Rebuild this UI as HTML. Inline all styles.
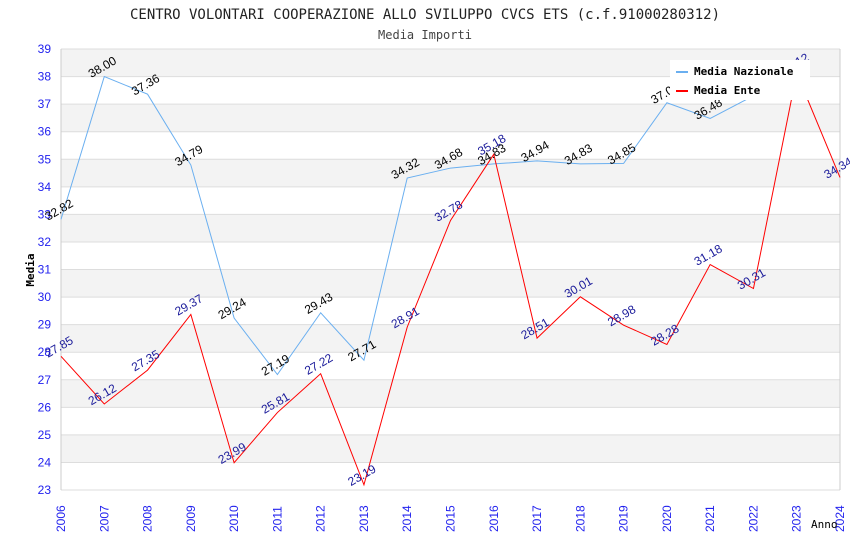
<!DOCTYPE html>
<html><head><meta charset="utf-8"><style>
body{margin:0;background:#fff}
svg{display:block;font-family:"Liberation Sans",sans-serif}
.mono{font-family:"DejaVu Sans Mono","Liberation Mono",monospace}
</style></head><body>
<svg id="chart" width="850" height="550">
<text class="mono" x="425" y="19" text-anchor="middle" font-size="14" fill="#222">CENTRO VOLONTARI COOPERAZIONE ALLO SVILUPPO CVCS ETS (c.f.91000280312)</text>
<text class="mono" x="425" y="39" text-anchor="middle" font-size="12" fill="#444">Media Importi</text>
<g id="bands"></g><g id="grid"></g><g id="axes"></g><g id="lines"></g><g id="labels"></g>
<text class="mono" x="34" y="270" transform="rotate(-90 34 270)" text-anchor="middle" font-size="11" font-weight="bold" fill="#000">Media</text>
<text class="mono" x="811" y="528" font-size="11" fill="#000">Anno</text>
<g>
<rect x="670" y="60" width="140" height="40" fill="#fff"/>
<rect x="676" y="71" width="12" height="2" fill="#6aaff0"/>
<text class="mono" x="694" y="75" font-size="11" font-weight="bold" fill="#000">Media Nazionale</text>
<rect x="676" y="90" width="12" height="2" fill="#ff0000"/>
<text class="mono" x="694" y="94" font-size="11" font-weight="bold" fill="#000">Media Ente</text>
</g>
</svg>
<script>
const years=[2006,2007,2008,2009,2010,2011,2012,2013,2014,2015,2016,2017,2018,2019,2020,2021,2022,2023,2024];
const nazionale=[32.82,38.00,37.36,34.79,29.24,27.19,29.43,27.71,34.32,34.68,34.83,34.94,34.83,34.85,37.05,36.48,37.30];
const ente=[27.85,26.12,27.35,29.37,23.99,25.81,27.22,23.19,28.91,32.78,35.18,28.51,30.01,28.98,28.28,31.18,30.31,38.12,34.34];
const yTicks=[23,24,25,26,27,28,29,30,31,32,33,34,35,36,37,38,39];
const NS='http://www.w3.org/2000/svg';
const L=61,R=840,T=49,B=490,yMin=23,yMax=39;
const x=i=>L+(R-L)*i/(years.length-1);
const y=v=>B-(B-T)*(v-yMin)/(yMax-yMin);
function mk(tag,attrs,parent){const e=document.createElementNS(NS,tag);for(const k in attrs)e.setAttribute(k,attrs[k]);document.getElementById(parent).appendChild(e);return e;}
for(let v=yMin;v<yMax;v++){
  const r=mk('rect',{x:L,y:y(v+1),width:R-L,height:y(v)-y(v+1),fill:(v%2===0)?'#f3f3f3':'#fff'},'bands');
  
  
}
yTicks.forEach(v=>{
  const g=mk('line',{x1:L,x2:R,y1:y(v),y2:y(v),stroke:'#ddd','stroke-width':1},'grid');
  
  
  const t=mk('text',{x:L-10,y:y(v)+4,'text-anchor':'end','font-size':12,fill:'#22e'},'axes');
  t.textContent=v;
  
  
});
mk('line',{x1:L,x2:L,y1:T,y2:B,stroke:'#ccc'},'axes');
mk('line',{x1:R,x2:R,y1:T,y2:B,stroke:'#ccc'},'axes');
years.forEach((yr,i)=>{
  const t=mk('text',{x:x(i)+4,y:532,transform:`rotate(-90 ${x(i)+4} 532)`,'font-size':12,fill:'#22e'},'axes');
  t.textContent=yr;
  
  
});
function series(vals,color,lc,name){
  const p=mk('polyline',{points:vals.map((v,i)=>x(i)+','+y(v)).join(' '),fill:'none',stroke:color,'stroke-width':1},'lines');
  
  
  vals.forEach((v,i)=>{
    const px=x(i),py=y(v)-6;
    const t=mk('text',{x:px,y:py,'text-anchor':'middle','font-size':12,fill:lc,transform:`rotate(-30 ${px} ${py})`},'labels');
    t.textContent=v.toFixed(2);
    
    
  });
}
series(nazionale,'#6aaff0','#000','nazionale');
series(ente,'#ff0000','#1a1a9a','ente');
</script>
</body></html>
